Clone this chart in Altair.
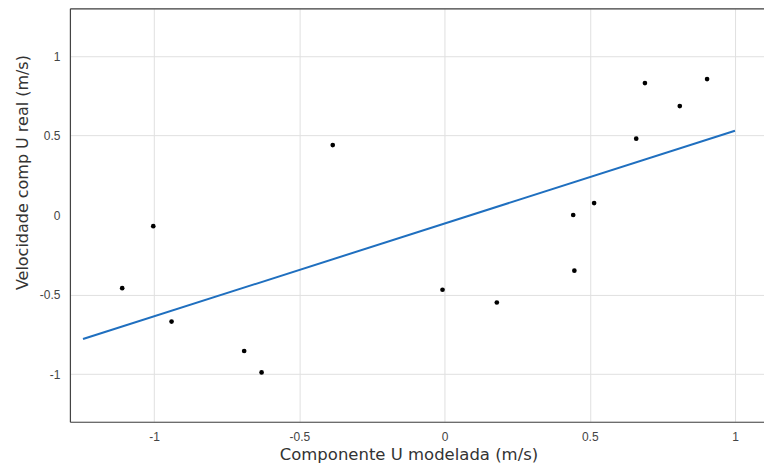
import altair as alt
import pandas as pd

# Scatter points
u_modelada = [-1.11, -1.003, -0.94, -0.69, -0.63, -0.385, -0.007, 0.18, 0.443, 0.447, 0.515, 0.66, 0.69, 0.81, 0.904]
u_real = [-0.46, -0.07, -0.67, -0.855, -0.99, 0.44, -0.47, -0.55, 0.0, -0.35, 0.075, 0.48, 0.83, 0.685, 0.855]

# Fitted line end points
fit_x = [-1.245, 1.0]
fit_y = [-0.78, 0.53]

x_ticks = [-1, -0.5, 0, 0.5, 1]
y_ticks = [-1, -0.5, 0, 0.5, 1]

pts = pd.DataFrame({"x": u_modelada, "y": u_real})
fit = pd.DataFrame({"x": fit_x, "y": fit_y})

font = "DejaVu Sans"
lfont = "Liberation Sans"

xscale = alt.Scale(domain=[-1.29, 1.1], nice=False, zero=False)
yscale = alt.Scale(domain=[-1.3, 1.3], nice=False, zero=False)

xaxis = alt.Axis(
    orient="bottom",
    values=x_ticks, title="Componente U modelada (m/s)",
    labelExpr="'' + datum.value",
    labelFont=lfont, labelFontSize=12, labelColor="#444444",
    titleFont=font, titleFontSize=16.5, titleFontWeight="normal", titleColor="#333333",
    titlePadding=4, labelPadding=10, titleX=339,
    ticks=False, domainColor="#444444", domainWidth=1.2,
    gridColor="#e0e0e0",
)
yaxis = alt.Axis(
    values=y_ticks, title="Velocidade comp U real  (m/s)",
    labelExpr="'' + datum.value",
    labelFont=lfont, labelFontSize=12, labelColor="#444444",
    titleFont=font, titleFontSize=16, titleFontWeight="normal", titleColor="#333333",
    titlePadding=9, labelPadding=10, titleY=164,
    ticks=False, domainColor="#444444", domainWidth=1.2,
    gridColor="#e0e0e0",
    gridOpacity={"condition": {"test": "datum.value === 0", "value": 0}, "value": 1},
)
top_axis = alt.Axis(
    orient="top", values=x_ticks, labels=False, title=None, grid=False,
    ticks=False, domainColor="#444444", domainWidth=1.2,
)

points = alt.Chart(pts).mark_circle(color="black", opacity=1, size=22).encode(
    x=alt.X("x:Q", scale=xscale, axis=xaxis),
    y=alt.Y("y:Q", scale=yscale, axis=yaxis),
)

line = alt.Chart(fit).mark_line(color="#1f6fbf", strokeWidth=2).encode(
    x=alt.X("x:Q", scale=xscale, axis=top_axis),
    y=alt.Y("y:Q", scale=yscale),
)

chart = alt.layer(points, line).resolve_axis(x="independent").properties(
    width=695, height=414,
    autosize=alt.AutoSizeParams(type="none"),
    padding={"left": 62, "top": 0, "right": 0, "bottom": 46},
).configure_view(
    stroke=None
).configure(background="white")

chart.save("out.html", embed_options={"renderer": "svg", "actions": False})
